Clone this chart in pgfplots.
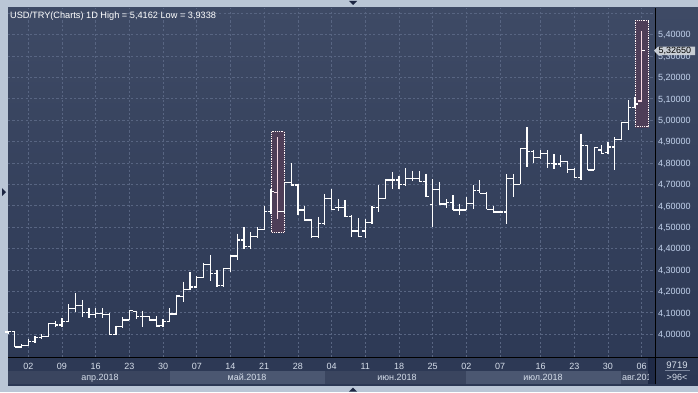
\documentclass[border=0pt]{standalone}
\usepackage{pgfplots}
\pgfplotsset{compat=1.18}
\usepackage{pgfplotstable}
\usepackage{fontspec}
\setmainfont{Liberation Sans}
\definecolor{framec}{RGB}{186,198,214}
\definecolor{bgtop}{RGB}{62,74,101}
\definecolor{bgbot}{RGB}{44,56,84}
\definecolor{gridc}{RGB}{88,101,130}
\definecolor{tickc}{RGB}{196,212,238}
\definecolor{datec}{RGB}{214,222,234}
\definecolor{banddark}{RGB}{58,69,95}
\definecolor{bandlight}{RGB}{75,87,113}
\definecolor{boxfill}{RGB}{78,62,88}
\definecolor{pinkbar}{RGB}{248,218,228}
\definecolor{navy}{RGB}{28,38,66}
\definecolor{pricebox}{RGB}{200,205,212}

\pgfdeclareplotmark{otick}{\pgfpathmoveto{\pgfqpoint{-3.2pt}{0pt}}\pgfpathlineto{\pgfqpoint{0pt}{0pt}}\pgfusepathqstroke}
\pgfdeclareplotmark{ctick}{\pgfpathmoveto{\pgfqpoint{0pt}{0pt}}\pgfpathlineto{\pgfqpoint{3.2pt}{0pt}}\pgfusepathqstroke}
\pgfdeclareplotmark{nothing}{}

\pgfplotstableread{
x O H L C
-3 4.010 4.015 4.000 4.012
-2 4.012 4.012 3.939 3.940
-1 3.940 3.953 3.937 3.948
0 3.948 3.975 3.945 3.965
1 3.965 3.990 3.960 3.985
2 3.985 4.000 3.975 3.990
3 3.990 4.050 3.985 4.050
4 4.050 4.063 4.035 4.043
5 4.043 4.075 4.035 4.060
6 4.060 4.140 4.055 4.120
7 4.120 4.190 4.105 4.135
8 4.135 4.160 4.080 4.100
9 4.100 4.120 4.075 4.090
10 4.090 4.120 4.075 4.095
11 4.095 4.120 4.075 4.090
12 4.090 4.100 4.000 4.000
13 4.000 4.040 3.998 4.035
14 4.035 4.080 4.030 4.066
15 4.066 4.110 4.065 4.109
16 4.105 4.110 4.070 4.081
17 4.081 4.110 4.033 4.081
18 4.081 4.085 4.060 4.066
19 4.066 4.085 4.037 4.038
20 4.040 4.070 4.033 4.058
21 4.058 4.120 4.058 4.094
22 4.094 4.185 4.090 4.178
23 4.175 4.245 4.151 4.209
24 4.209 4.290 4.206 4.220
25 4.220 4.270 4.215 4.265
26 4.265 4.334 4.260 4.326
27 4.326 4.370 4.250 4.284
28 4.284 4.300 4.220 4.228
29 4.228 4.310 4.220 4.307
30 4.307 4.370 4.290 4.365
31 4.365 4.470 4.345 4.440
32 4.440 4.499 4.400 4.408
33 4.408 4.475 4.400 4.455
34 4.455 4.500 4.450 4.490
35 4.490 4.600 4.485 4.572
36 4.572 4.680 4.560 4.665
37 4.663 4.920 4.536 4.572
38 4.572 4.710 4.565 4.707
39 4.707 4.798 4.690 4.697
40 4.697 4.700 4.556 4.580
41 4.580 4.600 4.530 4.533
42 4.533 4.536 4.447 4.455
43 4.455 4.548 4.447 4.518
44 4.518 4.655 4.510 4.635
45 4.635 4.677 4.580 4.583
46 4.592 4.630 4.577 4.592
47 4.592 4.627 4.545 4.549
48 4.549 4.555 4.452 4.482
49 4.482 4.541 4.452 4.455
50 4.482 4.537 4.447 4.520
51 4.520 4.600 4.515 4.592
52 4.592 4.696 4.570 4.635
53 4.635 4.723 4.630 4.720
54 4.720 4.758 4.680 4.720
55 4.720 4.739 4.678 4.700
56 4.700 4.774 4.690 4.728
57 4.728 4.763 4.715 4.728
58 4.728 4.763 4.710 4.712
59 4.712 4.750 4.640 4.642
60 4.606 4.723 4.499 4.677
61 4.677 4.712 4.605 4.608
62 4.608 4.630 4.590 4.614
63 4.614 4.650 4.578 4.580
64 4.580 4.610 4.555 4.580
65 4.580 4.640 4.580 4.611
66 4.611 4.695 4.585 4.670
67 4.670 4.720 4.658 4.658
68 4.658 4.665 4.583 4.583
69 4.583 4.600 4.568 4.571
70 4.571 4.571 4.571 4.571
71 4.571 4.748 4.514 4.728
72 4.728 4.748 4.640 4.701
73 4.701 4.868 4.700 4.868
74 4.868 4.969 4.782 4.852
75 4.852 4.860 4.800 4.826
76 4.826 4.860 4.820 4.845
77 4.845 4.860 4.775 4.798
78 4.798 4.840 4.770 4.795
79 4.795 4.837 4.782 4.806
80 4.806 4.810 4.752 4.770
81 4.770 4.775 4.730 4.733
82 4.733 4.937 4.722 4.880
83 4.880 4.880 4.765 4.767
84 4.767 4.871 4.765 4.871
85 4.860 4.883 4.840 4.845
86 4.848 4.898 4.840 4.874
87 4.874 4.921 4.766 4.910
88 4.910 4.992 4.905 4.990
89 4.990 5.093 4.953 5.058
90 5.058 5.110 5.055 5.075
}\ohlc

\pgfplotstableread{
x O H L C
37 4.663 4.920 4.536 4.572
91 5.089 5.416 5.085 5.3265
}\hl

\begin{document}
\begin{tikzpicture}[x=1pt,y=1pt]
% frame and background
\fill[framec] (0,0) rectangle (698,392);
\shade[top color=bgtop, bottom color=bgbot] (8,7) rectangle (698,384);
% month band
\fill[banddark] (8,8) rectangle (170,21.3);
\fill[bandlight] (170,8) rectangle (325,21.3);
\fill[banddark] (325,8) rectangle (466,21.3);
\fill[bandlight] (466,8) rectangle (621,21.3);
\fill[banddark] (621,8) rectangle (648,21.3);
\fill[navy!80!bgbot] (648,8) rectangle (654.5,35);
% triangles
\fill[navy] (349,391) -- (357,391) -- (353,387) -- cycle;
\fill[navy] (349,0.5) -- (357,0.5) -- (353,4.5) -- cycle;
\fill[navy] (2,204) -- (2,196) -- (6,200) -- cycle;

\begin{axis}[
  at={(8pt,35pt)}, anchor=south west,
  scale only axis, width=647pt, height=349pt,
  xmin=-3.01, xmax=92.98, ymin=3.893, ymax=5.524,
  axis line style={draw=none},
  major tick length=0pt,
  grid=major,
  grid style={gridc, dash pattern=on 2.2pt off 2.2pt, line width=0.7pt},
  xtick={0,5,10,15,20,25,30,35,40,45,50,55,60,65,70,76,81,86,91},
  xticklabels={02,09,16,23,30,07,14,21,28,04,11,18,25,02,07,16,23,30,06},
  xticklabel style={font=\fontsize{9}{10}\selectfont, text=datec, anchor=base, inner sep=0pt, yshift=-12.3pt},
  ytick={4.0,4.1,4.2,4.3,4.4,4.5,4.6,4.7,4.8,4.9,5.0,5.1,5.2,5.3,5.4,5.5},
  yticklabels={{4,00000},{4,10000},{4,20000},{4,30000},{4,40000},{4,50000},{4,60000},{4,70000},{4,80000},{4,90000},{5,00000},{5,10000},{5,20000},{5,30000},{5,40000},{}},
  yticklabel pos=right,
  yticklabel style={font=\fontsize{9}{10}\selectfont, text=tickc, anchor=base west, inner sep=0pt, xshift=3pt, yshift=-3.3pt},
]
% highlight boxes
\draw[boxfill, fill=boxfill] (axis cs:36.05,4.476) rectangle (axis cs:37.95,4.946);
\draw[boxfill, fill=boxfill] (axis cs:90.05,4.969) rectangle (axis cs:91.95,5.465);
\draw[white!85!pink, densely dotted, line width=0.8pt] (axis cs:36.05,4.476) rectangle (axis cs:37.95,4.946);
\draw[white!85!pink, densely dotted, line width=0.8pt] (axis cs:90.05,4.969) rectangle (axis cs:91.95,5.465);
% OHLC bars: high-low range
\addplot[only marks, mark=nothing, white, forget plot,
  error bars/.cd, y dir=minus, y explicit, error mark=none,
  error bar style={white, line width=1.2pt}]
  table[x=x, y=H, y error minus expr=\thisrow{H}-\thisrow{L}] {\ohlc};
\addplot[only marks, mark=otick, white, line width=1.2pt] table[x=x, y=O] {\ohlc};
\addplot[only marks, mark=ctick, white, line width=1.2pt] table[x=x, y=C] {\ohlc};
% highlighted bars
\addplot[only marks, mark=nothing, pinkbar, forget plot,
  error bars/.cd, y dir=minus, y explicit, error mark=none,
  error bar style={pinkbar, line width=1.2pt}]
  table[x=x, y=H, y error minus expr=\thisrow{H}-\thisrow{L}] {\hl};
\addplot[only marks, mark=otick, pinkbar, line width=1.2pt] table[x=x, y=O] {\hl};
\addplot[only marks, mark=ctick, white, line width=1.2pt] table[x=x, y=C] {\hl};
\end{axis}

% axis lines
\draw[black, line width=1pt] (8,35) -- (698,35);
\draw[black, line width=1pt] (655,8) -- (655,384);
% title
\node[anchor=base west, inner sep=0pt, text=white, font=\fontsize{9.2}{11}\selectfont] at (10,373.8) {USD/TRY(Charts) 1D High = 5,4162 Low = 3,9338};
% price box
\fill[pricebox] (654,341.3) -- (658,345.5) -- (695,345.5) -- (695,337) -- (658,337) -- cycle;
\node[anchor=base west, inner sep=0pt, text=black, font=\fontsize{9}{10}\selectfont] at (658.3,338) {5,32650};
% month labels
\node[anchor=base, inner sep=0pt, text=datec, font=\fontsize{9}{10}\selectfont] at (100,12) {апр.2018};
\node[anchor=base, inner sep=0pt, text=datec, font=\fontsize{9}{10}\selectfont] at (247,12) {май.2018};
\node[anchor=base, inner sep=0pt, text=datec, font=\fontsize{9}{10}\selectfont] at (397,12) {июн.2018};
\node[anchor=base, inner sep=0pt, text=datec, font=\fontsize{9}{10}\selectfont] at (543,12) {июл.2018};
\begin{scope}
\clip (621,8) rectangle (648,21.3);
\node[anchor=base west, inner sep=0pt, text=datec, font=\fontsize{9}{10}\selectfont] at (622,12) {авг.2018};
\end{scope}
% right bottom panel
\node[anchor=base, inner sep=0pt, text=datec, font=\fontsize{9.5}{10}\selectfont] at (677,23.5) {9719};
\draw[gridc!80!white, line width=0.6pt] (665,21.3) -- (690,21.3);
\node[anchor=base, inner sep=0pt, text=datec, font=\fontsize{9}{10}\selectfont] at (677,12) {>96<};
\pgfresetboundingbox
\path (0,0) rectangle (698,392);
\end{tikzpicture}
\end{document}
